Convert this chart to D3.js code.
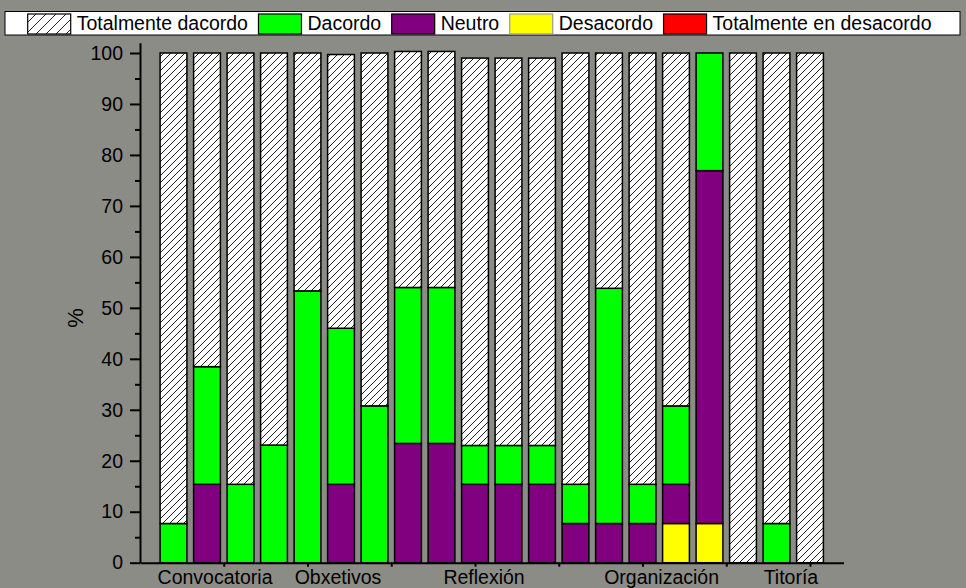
<!DOCTYPE html>
<html><head><meta charset="utf-8">
<script src="https://cdn.jsdelivr.net/npm/d3@7"></script>
<style>
html,body{margin:0;padding:0;background:#8c8c86;}
svg{display:block;}
text{font-family:"Liberation Sans",Arial,sans-serif;}
</style></head>
<body>
<script>
// ---- data ----
const barIndex = d3.range(1, 21);
const groupLabels = ["Convocatoria", "Obxetivos", "Reflexión", "Organización", "Titoría"];
const groupLabelPos = [2.24, 5.91, 10.27, 15.57, 19.43];
const seriesNames = ["Totalmente dacordo", "Dacordo", "Neutro", "Desacordo", "Totalmente en desacordo"];
const seriesColors = ["url(#hatch)", "#00ff00", "#800080", "#ffff00", "#ff0000"];
const totalmenteDacordo = [92.31, 61.54, 84.62, 76.92, 46.67, 53.7, 69.23, 46.3, 46.3, 76.0, 76.0, 76.0, 84.62, 46.15, 84.62, 69.23, 0, 100, 92.31, 100];
const dacordo = [7.69, 23.08, 15.38, 23.08, 53.33, 30.62, 30.77, 30.6, 30.6, 7.62, 7.62, 7.62, 7.69, 46.15, 7.69, 15.38, 23.08, 0, 7.69, 0];
const neutro = [0, 15.38, 0, 0, 0, 15.38, 0, 23.4, 23.4, 15.38, 15.38, 15.38, 7.69, 7.69, 7.69, 7.69, 69.23, 0, 0, 0];
const desacordo = [0, 0, 0, 0, 0, 0, 0, 0, 0, 0, 0, 0, 0, 0, 0, 7.69, 7.69, 0, 0, 0];
const totalmenteDesacordo = [0, 0, 0, 0, 0, 0, 0, 0, 0, 0, 0, 0, 0, 0, 0, 0, 0, 0, 0, 0];
const yTicks = [0, 10, 20, 30, 40, 50, 60, 70, 80, 90, 100];
const yMinorTicks = [5, 15, 25, 35, 45, 55, 65, 75, 85, 95];
const xTicks = [2.5, 5, 7.5, 10, 12.5, 15, 17.5, 20];

const W = 966, H = 588;
const svg = d3.select("body").append("svg").attr("width", W).attr("height", H);

const defs = svg.append("defs");
function hatch(id, s) {
  const p = defs.append("pattern").attr("id", id).attr("patternUnits", "userSpaceOnUse")
    .attr("width", s).attr("height", s);
  p.append("rect").attr("width", s).attr("height", s).attr("fill", "#fff");
  p.append("path").attr("d", `M${-s/4},${s/4} L${s/4},${-s/4} M0,${s} L${s},0 M${3*s/4},${5*s/4} L${5*s/4},${3*s/4}`)
    .attr("stroke", "#222").attr("stroke-width", 1);
}
hatch("hatch", 7);
hatch("hatchL", 10);

const x = d3.scaleLinear().domain([0, 21]).range([140, 843.5]);
const y = d3.scaleLinear().domain([0, 102]).range([562.7, 42.8]);
const bw = (x(1) - x(0)) * 0.8;

const rows = barIndex.map((b, i) => ({
  pos: b,
  "Desacordo": desacordo[i],
  "Neutro": neutro[i],
  "Dacordo": dacordo[i],
  "Totalmente dacordo": totalmenteDacordo[i],
  "Totalmente en desacordo": totalmenteDesacordo[i]
}));
const stackKeys = ["Totalmente en desacordo", "Desacordo", "Neutro", "Dacordo", "Totalmente dacordo"];
const stacked = d3.stack().keys(stackKeys)(rows);
const colorOf = k => seriesColors[seriesNames.indexOf(k)];

stacked.forEach(layer => {
  svg.append("g").selectAll("rect")
    .data(layer.filter(d => d[1] - d[0] > 0))
    .join("rect")
    .attr("x", d => x(d.data.pos) - bw / 2)
    .attr("width", bw)
    .attr("y", d => y(d[1]))
    .attr("height", d => y(d[0]) - y(d[1]))
    .attr("fill", colorOf(layer.key))
    .attr("stroke", "#000")
    .attr("stroke-width", 1.5);
});

// axes
const fs = 19.5;
const yAxis = svg.append("g").attr("transform", `translate(${x(0)},0)`)
  .call(d3.axisLeft(y).tickValues(yTicks).tickSize(10).tickSizeOuter(0).tickPadding(7));
svg.append("g").attr("transform", `translate(${x(0)},0)`)
  .call(d3.axisLeft(y).tickValues(yMinorTicks).tickSize(5).tickFormat(""))
  .select(".domain").remove();
const xAxis = svg.append("g").attr("transform", `translate(0,${y(0)})`)
  .call(d3.axisBottom(x).tickValues(xTicks).tickSize(4).tickSizeOuter(0).tickFormat(""));
svg.selectAll(".domain").attr("stroke", "#000").attr("stroke-width", 2);
svg.selectAll(".tick line").attr("stroke", "#000").attr("stroke-width", 2);
yAxis.selectAll("text").attr("font-size", fs).attr("fill", "#000")
  .style("font-family", '"Liberation Sans", Arial, sans-serif');

svg.append("g").selectAll("text").data(groupLabels).join("text")
  .attr("x", (d, i) => x(groupLabelPos[i]))
  .attr("y", 584)
  .attr("text-anchor", "middle")
  .attr("font-size", fs)
  .text(d => d);

svg.append("text").attr("transform", `translate(83,318) rotate(-90)`)
  .attr("text-anchor", "middle").attr("font-size", 22).text("%");

// legend
const lg = svg.append("g");
lg.append("rect").attr("x", 5).attr("y", 11.5).attr("width", 955).attr("height", 23.5)
  .attr("fill", "#fff").attr("stroke", "#000").attr("stroke-width", 1);
let lx = 27.7;
seriesNames.forEach((name, i) => {
  const fill = i === 0 ? "url(#hatchL)" : seriesColors[i];
  const strokeC = i === 3 ? "#999" : "#000";
  lg.append("rect").attr("x", lx).attr("y", 14).attr("width", 43).attr("height", 20)
    .attr("fill", fill).attr("stroke", strokeC).attr("stroke-width", 1.2);
  const t = lg.append("text").attr("x", lx + 49).attr("y", 30).attr("font-size", fs).text(name);
  lx += 49 + t.node().getComputedTextLength() + 10.5;
});
</script>
</body></html>
